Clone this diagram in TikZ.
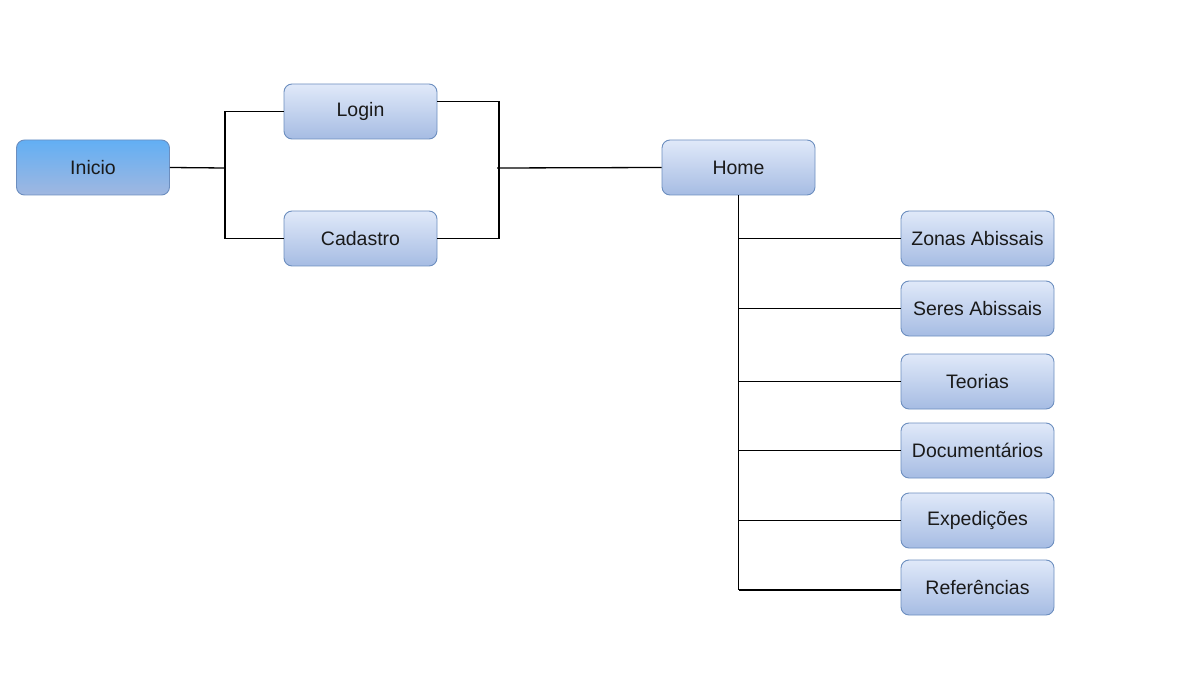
\documentclass[tikz,border=0pt]{standalone}
\usepackage{fontspec}
\setmainfont{Liberation Sans}
\definecolor{boxtop}{HTML}{E0E9F9}
\definecolor{boxbot}{HTML}{A6BCE3}
\definecolor{boxline}{HTML}{6C8EBF}
\definecolor{starttop}{HTML}{62AFF4}
\definecolor{startbot}{HTML}{A0B7E0}
\definecolor{txt}{HTML}{1A1A1A}
\tikzset{
  pbox/.style={draw=boxline, line width=0.9pt, rounded corners=8pt,
    minimum width=153pt, minimum height=55pt, inner sep=0pt,
    top color=boxtop, bottom color=boxbot,
    font=\fontsize{19.5}{22}\selectfont, text=txt},
  startbox/.style={pbox, top color=starttop, bottom color=startbot},
  link/.style={draw=black, line width=1.3pt}
}
\begin{document}
\begin{tikzpicture}[x=1pt,y=-1pt]
\useasboundingbox (0,0) rectangle (1188,676);
\node[startbox] (inicio) at (93,167.5) {Inicio};
\node[pbox] (login) at (360.5,111.5) {Login};
\node[pbox] (cadastro) at (360.5,238.5) {Cadastro};
\node[pbox] (home) at (738.5,167.5) {Home};
\node[pbox] (zonas) at (977.5,238.5) {Zonas Abissais};
\node[pbox] (seres) at (977.5,308.5) {Seres Abissais};
\node[pbox] (teorias) at (977.5,381.5) {Teorias};
\node[pbox] (docs) at (977.5,450.5) {Documentários};
\node[pbox] (exped) at (977.5,520.5) {Expedições};
\node[pbox] (refs) at (977.5,587.5) {Referências};

\coordinate (jl) at (225,168);
\coordinate (jr) at (499,168);
\coordinate (hb) at (738.5,590);

\draw[link] (inicio.east) -- (jl);
\draw[link] (login.west) -| (jl);
\draw[link] (cadastro.west) -| (jl);
\draw[link] ([yshift=10pt]login.east) -| (jr);
\draw[link] (cadastro.east) -| (jr);
\draw[link] ([xshift=-2pt]jr) -- (home.west);
\draw[link] (home.south) -- (hb);
\foreach \n in {zonas,seres,teorias,docs,exped}{
  \draw[link] (\n.west) -- (\n.west -| home.south);
}
\draw[link] ([yshift=-2.5pt]refs.west) -- (hb);
\end{tikzpicture}
\end{document}
